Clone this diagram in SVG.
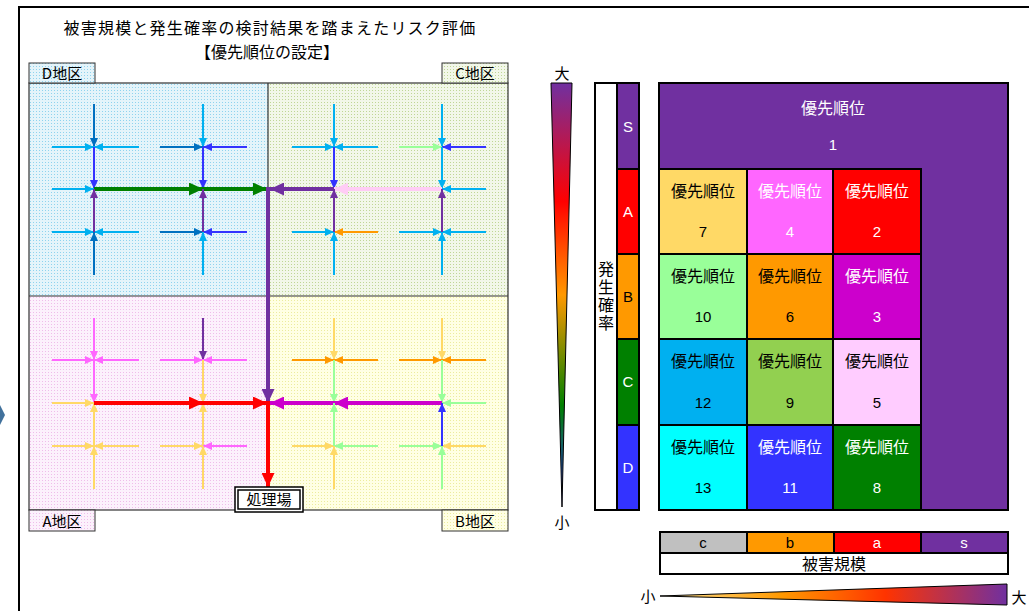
<svg xmlns="http://www.w3.org/2000/svg" width="1029" height="611" viewBox="0 0 1029 611">
<defs>
<pattern id="pD" width="3" height="3" patternUnits="userSpaceOnUse"><rect width="3" height="3" fill="#e4f4fa"/><rect width="1" height="1" fill="#8fd3ee"/></pattern>
<pattern id="pC" width="3" height="3" patternUnits="userSpaceOnUse"><rect width="3" height="3" fill="#f2f7e9"/><rect width="1" height="1" fill="#bfd696"/></pattern>
<pattern id="pA" width="3" height="3" patternUnits="userSpaceOnUse"><rect width="3" height="3" fill="#fcf1fc"/><rect width="1" height="1" fill="#efbdea"/></pattern>
<pattern id="pB" width="3" height="3" patternUnits="userSpaceOnUse"><rect width="3" height="3" fill="#ffffe4"/><rect width="1" height="1" fill="#ecec9e"/></pattern>
<linearGradient id="gV" x1="0" y1="0" x2="0" y2="1">
<stop offset="0" stop-color="#7030a0"/><stop offset="0.28" stop-color="#ff0000"/><stop offset="0.5" stop-color="#ff9900"/><stop offset="0.76" stop-color="#008000"/><stop offset="1" stop-color="#3333ff"/>
</linearGradient>
<linearGradient id="gH" x1="0" y1="0" x2="1" y2="0">
<stop offset="0" stop-color="#ffe699"/><stop offset="0.35" stop-color="#ff9900"/><stop offset="0.65" stop-color="#ff3300"/><stop offset="1" stop-color="#7030a0"/>
</linearGradient>
<marker id="a-db" markerUnits="userSpaceOnUse" markerWidth="9" markerHeight="8" refX="9" refY="4" orient="auto"><path d="M0,0L9,4L0,8z" fill="#0070c0"/></marker>
<marker id="a-cy" markerUnits="userSpaceOnUse" markerWidth="9" markerHeight="8" refX="9" refY="4" orient="auto"><path d="M0,0L9,4L0,8z" fill="#00b0f0"/></marker>
<marker id="a-bl" markerUnits="userSpaceOnUse" markerWidth="9" markerHeight="8" refX="9" refY="4" orient="auto"><path d="M0,0L9,4L0,8z" fill="#3333ff"/></marker>
<marker id="a-pu" markerUnits="userSpaceOnUse" markerWidth="9" markerHeight="8" refX="9" refY="4" orient="auto"><path d="M0,0L9,4L0,8z" fill="#7030a0"/></marker>
<marker id="a-lg" markerUnits="userSpaceOnUse" markerWidth="9" markerHeight="8" refX="9" refY="4" orient="auto"><path d="M0,0L9,4L0,8z" fill="#99ff99"/></marker>
<marker id="a-or" markerUnits="userSpaceOnUse" markerWidth="9" markerHeight="8" refX="9" refY="4" orient="auto"><path d="M0,0L9,4L0,8z" fill="#ff9900"/></marker>
<marker id="a-pk" markerUnits="userSpaceOnUse" markerWidth="9" markerHeight="8" refX="9" refY="4" orient="auto"><path d="M0,0L9,4L0,8z" fill="#ff66ff"/></marker>
<marker id="a-ye" markerUnits="userSpaceOnUse" markerWidth="9" markerHeight="8" refX="9" refY="4" orient="auto"><path d="M0,0L9,4L0,8z" fill="#ffd966"/></marker>
<marker id="A-gr" markerUnits="userSpaceOnUse" markerWidth="14" markerHeight="13" refX="14" refY="6.5" orient="auto"><path d="M0,0L14,6.5L0,13z" fill="#008000"/></marker>
<marker id="A-rd" markerUnits="userSpaceOnUse" markerWidth="14" markerHeight="13" refX="14" refY="6.5" orient="auto"><path d="M0,0L14,6.5L0,13z" fill="#ff0000"/></marker>
<marker id="A-mg" markerUnits="userSpaceOnUse" markerWidth="14" markerHeight="13" refX="14" refY="6.5" orient="auto"><path d="M0,0L14,6.5L0,13z" fill="#cc00cc"/></marker>
<marker id="A-lp" markerUnits="userSpaceOnUse" markerWidth="14" markerHeight="13" refX="14" refY="6.5" orient="auto"><path d="M0,0L14,6.5L0,13z" fill="#ffccf5"/></marker>
<marker id="A-pu" markerUnits="userSpaceOnUse" markerWidth="14" markerHeight="13" refX="14" refY="6.5" orient="auto"><path d="M0,0L14,6.5L0,13z" fill="#7030a0"/></marker>
</defs>
<style>
text{font-family:"Noto Sans CJK JP","Liberation Sans",sans-serif}
.ttl{font-size:16px;fill:#000;text-anchor:middle}
.lbl{font-size:15px;fill:#000;text-anchor:middle}
.box{stroke:#333;stroke-width:1}
line{fill:none}
.db{stroke:#0070c0;stroke-width:2;marker-end:url(#a-db)}
.cy{stroke:#00b0f0;stroke-width:2;marker-end:url(#a-cy)}
.bl{stroke:#3333ff;stroke-width:2;marker-end:url(#a-bl)}
.pu{stroke:#7030a0;stroke-width:2;marker-end:url(#a-pu)}
.lg{stroke:#99ff99;stroke-width:2;marker-end:url(#a-lg)}
.or{stroke:#ff9900;stroke-width:2;marker-end:url(#a-or)}
.pk{stroke:#ff66ff;stroke-width:2;marker-end:url(#a-pk)}
.ye{stroke:#ffd966;stroke-width:2;marker-end:url(#a-ye)}
.Tgr{stroke:#008000;stroke-width:4;marker-end:url(#A-gr)}
.Trd{stroke:#ff0000;stroke-width:4;marker-end:url(#A-rd)}
.Tmg{stroke:#cc00cc;stroke-width:4;marker-end:url(#A-mg)}
.Tlp{stroke:#ffccf5;stroke-width:4;marker-end:url(#A-lp)}
.Tpu{stroke:#7030a0;stroke-width:4;marker-end:url(#A-pu)}
.cell{stroke:#000;stroke-width:2}
.ct{font-size:16px;text-anchor:middle}
.cn{font-size:15px;text-anchor:middle;font-family:"Liberation Sans",Arial,sans-serif}
.w{fill:#fff}
.k{fill:#000}
</style>
<rect width="1029" height="611" fill="#fff"/>
<path d="M19,611V7H1029" fill="none" stroke="#000" stroke-width="2"/>
<polygon points="0,405 5,415 0,425" fill="#41719c"/>

<g id="title">
<text class="ttl" x="270" y="34" letter-spacing="1.2">被害規模と発生確率の検討結果を踏まえたリスク評価</text>
<text class="ttl" x="267" y="57.5">【優先順位の設定】</text>
</g>

<g id="map">
<rect x="29" y="83" width="239" height="213" fill="url(#pD)"/>
<rect x="268" y="83" width="240" height="213" fill="url(#pC)"/>
<rect x="29" y="296" width="239" height="214" fill="url(#pA)"/>
<rect x="268" y="296" width="240" height="214" fill="url(#pB)"/>
<rect x="29" y="83" width="479" height="427" fill="none" stroke="#333" stroke-width="1.2"/>
<line x1="268" y1="83" x2="268" y2="510" stroke="#333" stroke-width="1.2"/>
<line x1="29" y1="296" x2="508" y2="296" stroke="#333" stroke-width="1.2"/>
</g>
<g id="label-D"><rect class="box" x="29" y="63" width="66" height="20" fill="url(#pD)"/><text class="lbl" x="62" y="79">D地区</text></g>
<g id="label-C"><rect class="box" x="442" y="63" width="66" height="20" fill="url(#pC)"/><text class="lbl" x="475" y="79">C地区</text></g>
<g id="label-A"><rect class="box" x="29" y="510" width="66" height="21" fill="url(#pA)"/><text class="lbl" x="62" y="527">A地区</text></g>
<g id="label-B"><rect class="box" x="442" y="510" width="66" height="21" fill="url(#pB)"/><text class="lbl" x="475" y="527">B地区</text></g>

<g id="connectors">
<line class="db" x1="94" y1="104" x2="94" y2="147"/>
<line class="cy" x1="52" y1="147" x2="94" y2="147"/>
<line class="cy" x1="139" y1="147" x2="94" y2="147"/>
<line class="bl" x1="94" y1="147" x2="94" y2="189"/>
<line class="cy" x1="52" y1="189" x2="94" y2="189"/>
<line class="cy" x1="52" y1="232" x2="94" y2="232"/>
<line class="cy" x1="139" y1="232" x2="94" y2="232"/>
<line class="db" x1="94" y1="275" x2="94" y2="232"/>
<line class="cy" x1="203" y1="104" x2="203" y2="147"/>
<line class="db" x1="160" y1="147" x2="203" y2="147"/>
<line class="bl" x1="247" y1="147" x2="203" y2="147"/>
<line class="bl" x1="203" y1="147" x2="203" y2="189"/>
<line class="db" x1="160" y1="232" x2="203" y2="232"/>
<line class="bl" x1="247" y1="232" x2="203" y2="232"/>
<line class="cy" x1="203" y1="275" x2="203" y2="232"/>
<line class="cy" x1="334" y1="104" x2="334" y2="147"/>
<line class="cy" x1="292" y1="147" x2="334" y2="147"/>
<line class="cy" x1="378" y1="147" x2="334" y2="147"/>
<line class="bl" x1="334" y1="147" x2="334" y2="189"/>
<line class="cy" x1="292" y1="232" x2="334" y2="232"/>
<line class="or" x1="378" y1="232" x2="334" y2="232"/>
<line class="cy" x1="334" y1="275" x2="334" y2="232"/>
<line class="cy" x1="442" y1="104" x2="442" y2="147"/>
<line class="lg" x1="399" y1="147" x2="442" y2="147"/>
<line class="bl" x1="486" y1="147" x2="442" y2="147"/>
<line class="cy" x1="442" y1="147" x2="442" y2="189"/>
<line class="cy" x1="486" y1="189" x2="442" y2="189"/>
<line class="cy" x1="399" y1="232" x2="442" y2="232"/>
<line class="cy" x1="486" y1="232" x2="442" y2="232"/>
<line class="cy" x1="442" y1="275" x2="442" y2="232"/>
<line class="pk" x1="94" y1="318" x2="94" y2="360"/>
<line class="pk" x1="52" y1="360" x2="94" y2="360"/>
<line class="pk" x1="139" y1="360" x2="94" y2="360"/>
<line class="pk" x1="94" y1="360" x2="94" y2="403"/>
<line class="ye" x1="52" y1="403" x2="94" y2="403"/>
<line class="ye" x1="94" y1="446" x2="94" y2="403"/>
<line class="ye" x1="52" y1="446" x2="94" y2="446"/>
<line class="ye" x1="139" y1="446" x2="94" y2="446"/>
<line class="ye" x1="94" y1="489" x2="94" y2="446"/>
<line class="pu" x1="203" y1="318" x2="203" y2="360"/>
<line class="pk" x1="160" y1="360" x2="203" y2="360"/>
<line class="pk" x1="247" y1="360" x2="203" y2="360"/>
<line class="ye" x1="203" y1="360" x2="203" y2="403"/>
<line class="ye" x1="203" y1="446" x2="203" y2="403"/>
<line class="ye" x1="160" y1="446" x2="203" y2="446"/>
<line class="pk" x1="247" y1="446" x2="203" y2="446"/>
<line class="ye" x1="203" y1="489" x2="203" y2="446"/>
<line class="ye" x1="334" y1="318" x2="334" y2="360"/>
<line class="or" x1="292" y1="360" x2="334" y2="360"/>
<line class="or" x1="378" y1="360" x2="334" y2="360"/>
<line class="lg" x1="334" y1="360" x2="334" y2="403"/>
<line class="ye" x1="292" y1="446" x2="334" y2="446"/>
<line class="lg" x1="378" y1="446" x2="334" y2="446"/>
<line class="ye" x1="334" y1="489" x2="334" y2="446"/>
<line class="ye" x1="442" y1="318" x2="442" y2="360"/>
<line class="or" x1="399" y1="360" x2="442" y2="360"/>
<line class="or" x1="486" y1="360" x2="442" y2="360"/>
<line class="lg" x1="442" y1="360" x2="442" y2="403"/>
<line class="lg" x1="486" y1="403" x2="442" y2="403"/>
<line class="lg" x1="399" y1="446" x2="442" y2="446"/>
<line class="ye" x1="486" y1="446" x2="442" y2="446"/>
<line class="lg" x1="442" y1="489" x2="442" y2="446"/>
<line class="Tgr" x1="94" y1="189" x2="203" y2="189"/>
<line class="Tgr" x1="203" y1="189" x2="267" y2="189"/>
<line class="Tlp" x1="442" y1="189" x2="334" y2="189"/>
<line class="Tpu" x1="334" y1="189" x2="270" y2="189"/>
<line class="Tpu" x1="268" y1="187" x2="268" y2="403"/>
<line class="Trd" x1="94" y1="403" x2="203" y2="403"/>
<line class="Trd" x1="203" y1="403" x2="267" y2="403"/>
<line class="Tmg" x1="442" y1="403" x2="334" y2="403"/>
<line class="Tmg" x1="334" y1="403" x2="270" y2="403"/>
<line class="Trd" x1="268" y1="401" x2="268" y2="487"/>
<line class="pu" x1="94" y1="232" x2="94" y2="189"/>
<line class="pu" x1="203" y1="232" x2="203" y2="189"/>
<line class="pu" x1="334" y1="232" x2="334" y2="189"/>
<line class="pu" x1="442" y1="232" x2="442" y2="189"/>
<line class="lg" x1="334" y1="446" x2="334" y2="403"/>
<line class="bl" x1="442" y1="446" x2="442" y2="403"/>
</g>

<g id="plant">
<rect x="235" y="487" width="68" height="25" fill="#fff" stroke="#000" stroke-width="1.5"/>
<rect x="238" y="490" width="62" height="19" fill="#fff" stroke="#000" stroke-width="1.5"/>
<text class="lbl" x="269" y="505">処理場</text>
</g>

<g id="prob-scale">
<polygon points="551,83 572,83 562,507" fill="url(#gV)" stroke="#000" stroke-width="1"/>
<text class="lbl" x="562" y="79">大</text>
<text class="lbl" x="562" y="528">小</text>
</g>

<g id="prob-axis">
<rect x="595" y="83" width="22" height="427" fill="#fff" stroke="#000" stroke-width="2"/>
<text x="606" y="297" font-size="16" text-anchor="middle" letter-spacing="2" style="writing-mode:vertical-rl">発生確率</text>
<rect class="cell" x="617" y="83" width="22" height="86" fill="#7030a0"/>
<rect class="cell" x="617" y="169" width="22" height="85" fill="#ff0000"/>
<rect class="cell" x="617" y="254" width="22" height="85" fill="#ff9900"/>
<rect class="cell" x="617" y="339" width="22" height="86" fill="#008000"/>
<rect class="cell" x="617" y="425" width="22" height="85" fill="#3333ff"/>
<text class="cn w" x="628" y="132">S</text>
<text class="cn w" x="628" y="217">A</text>
<text class="cn k" x="628" y="302">B</text>
<text class="cn w" x="628" y="387">C</text>
<text class="cn w" x="628" y="473">D</text>
</g>

<g id="p1">
<rect class="cell" x="659" y="83" width="349" height="427" fill="#7030a0"/>
<text class="ct w" x="833" y="114">優先順位</text>
<text class="cn w" x="833" y="150">1</text>
</g>
<g id="p7"><rect class="cell" x="659" y="169" width="88" height="85" fill="#ffd966"/><text class="ct k" x="703" y="197">優先順位</text><text class="cn k" x="703" y="237">7</text></g>
<g id="p4"><rect class="cell" x="747" y="169" width="86" height="85" fill="#ff66ff"/><text class="ct w" x="790" y="197">優先順位</text><text class="cn w" x="790" y="237">4</text></g>
<g id="p2"><rect class="cell" x="833" y="169" width="88" height="85" fill="#ff0000"/><text class="ct w" x="877" y="197">優先順位</text><text class="cn w" x="877" y="237">2</text></g>
<g id="p10"><rect class="cell" x="659" y="254" width="88" height="85" fill="#99ff99"/><text class="ct k" x="703" y="282">優先順位</text><text class="cn k" x="703" y="322">10</text></g>
<g id="p6"><rect class="cell" x="747" y="254" width="86" height="85" fill="#ff9900"/><text class="ct k" x="790" y="282">優先順位</text><text class="cn k" x="790" y="322">6</text></g>
<g id="p3"><rect class="cell" x="833" y="254" width="88" height="85" fill="#cc00cc"/><text class="ct w" x="877" y="282">優先順位</text><text class="cn w" x="877" y="322">3</text></g>
<g id="p12"><rect class="cell" x="659" y="339" width="88" height="86" fill="#00b0f0"/><text class="ct k" x="703" y="367">優先順位</text><text class="cn k" x="703" y="408">12</text></g>
<g id="p9"><rect class="cell" x="747" y="339" width="86" height="86" fill="#92d050"/><text class="ct k" x="790" y="367">優先順位</text><text class="cn k" x="790" y="408">9</text></g>
<g id="p5"><rect class="cell" x="833" y="339" width="88" height="86" fill="#ffccff"/><text class="ct k" x="877" y="367">優先順位</text><text class="cn k" x="877" y="408">5</text></g>
<g id="p13"><rect class="cell" x="659" y="425" width="88" height="85" fill="#00ffff"/><text class="ct k" x="703" y="453">優先順位</text><text class="cn k" x="703" y="493">13</text></g>
<g id="p11"><rect class="cell" x="747" y="425" width="86" height="85" fill="#3333ff"/><text class="ct w" x="790" y="453">優先順位</text><text class="cn w" x="790" y="493">11</text></g>
<g id="p8"><rect class="cell" x="833" y="425" width="88" height="85" fill="#008000"/><text class="ct w" x="877" y="453">優先順位</text><text class="cn w" x="877" y="493">8</text></g>

<g id="damage-axis">
<rect class="cell" x="660" y="532" width="87" height="21" fill="#c0c0c0"/>
<rect class="cell" x="747" y="532" width="87" height="21" fill="#ff9900"/>
<rect class="cell" x="834" y="532" width="87" height="21" fill="#ff0000"/>
<rect class="cell" x="921" y="532" width="87" height="21" fill="#7030a0"/>
<text class="cn k" x="703" y="548" font-size="14">c</text>
<text class="cn k" x="790" y="548" font-size="14">b</text>
<text class="cn w" x="877" y="548" font-size="14">a</text>
<text class="cn w" x="964" y="548" font-size="14">s</text>
<rect class="cell" x="660" y="553" width="348" height="21" fill="#fff"/>
<text class="ct k" x="834" y="570">被害規模</text>
</g>

<g id="damage-scale">
<polygon points="660,596 1007,584 1007,605" fill="url(#gH)" stroke="#000" stroke-width="1"/>
<text class="lbl" x="648" y="602">小</text>
<text class="lbl" x="1019" y="603">大</text>
</g>
</svg>
